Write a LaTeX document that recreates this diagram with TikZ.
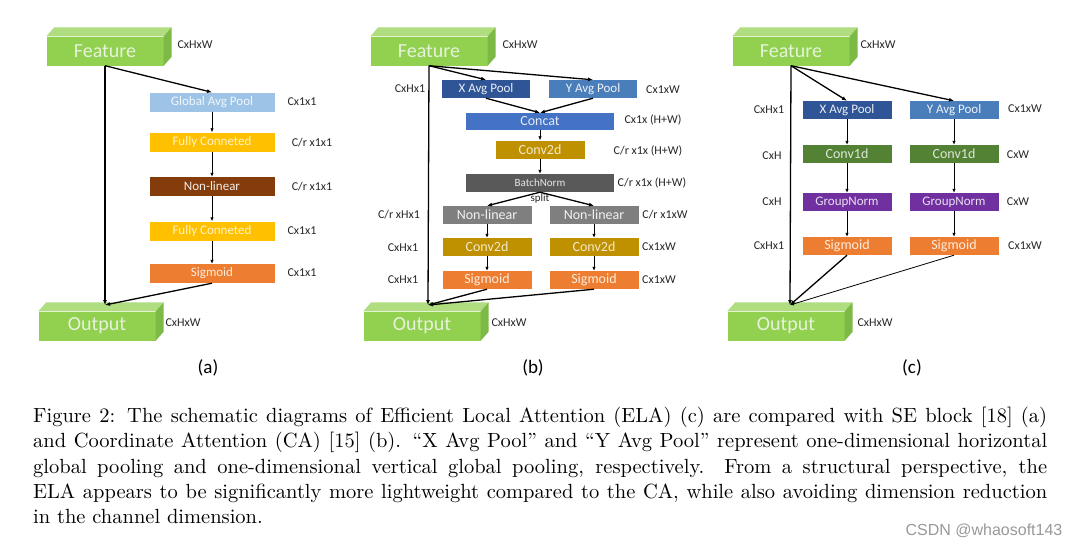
\documentclass[tikz,border=0pt]{standalone}
\usepackage{fontspec}
\usetikzlibrary{arrows.meta, positioning, calc}
\newfontfamily\boxfont{Carlito}
\newfontfamily\markfont{Liberation Sans}
\newfontfamily\capfont{lmroman10-regular}[Extension=.otf, Ligatures=TeX]
\definecolor{cubeFront}{HTML}{92D050}
\definecolor{cubeTop}{HTML}{B0DD80}
\definecolor{cubeSide}{HTML}{7DBA45}
\definecolor{cubeText}{HTML}{E6F3DA}
\definecolor{gapBlue}{HTML}{9DC3E6}
\definecolor{fcGold}{HTML}{FFC000}
\definecolor{nlBrown}{HTML}{843C0C}
\definecolor{sigOrange}{HTML}{ED7D31}
\definecolor{xapBlue}{HTML}{2F5597}
\definecolor{yapBlue}{HTML}{4A7EBB}
\definecolor{catBlue}{HTML}{4472C4}
\definecolor{convGold}{HTML}{BF9000}
\definecolor{bnGray}{HTML}{595959}
\definecolor{nlGray}{HTML}{7F7F7F}
\definecolor{c1dGreen}{HTML}{548235}
\definecolor{gnPurple}{HTML}{7030A0}
% front face of a green block, then its top and side faces
\newcommand{\cubenode}[3]{%
  \node[cube] (#1) at (#2) {#3};
  \fill[cubeTop] (#1.north west) -- ++(8,-9) -- ([shift={(8,-9)}]#1.north east) -- (#1.north east) -- cycle;
  \fill[cubeSide] (#1.north east) -- ++(8,-9) -- ([shift={(8,-9)}]#1.south east) -- (#1.south east) -- cycle;
}
\begin{document}
\begin{tikzpicture}[
  x=1pt, y=-1pt,
  cube/.style={fill=cubeFront, text=cubeText, minimum width=117pt, minimum height=29pt,
               inner sep=0pt, font=\boxfont\fontsize{20}{20}\selectfont},
  blk/.style={minimum width=89pt, minimum height=18pt, inner sep=0pt,
              font=\boxfont\fontsize{13}{13}\selectfont},
  wide/.style={blk, minimum width=125pt, minimum height=19pt},
  long/.style={blk, minimum width=148pt, minimum height=17pt},
  dim/.style={font=\boxfont\fontsize{12}{12}\selectfont, text=black!85},
  sub/.style={font=\boxfont\fontsize{19}{19}\selectfont},
  arr/.style={-{Latex[length=4pt, width=3.5pt]}, line width=0.8pt},
  big/.style={-{Latex[length=5pt, width=4pt]}, line width=1.3pt},
]
\useasboundingbox (0,0) rectangle (1080,547);
\fill[white] (0,0) rectangle (1080,547);

% (a) SE block
\cubenode{fa}{105,51}{Feature}
\cubenode{oa}{97,326}{Output}
\coordinate (ja) at (105,305);
\node[wide, fill=gapBlue, text=white!85!gapBlue] (gap) at (212,102) {Global Avg Pool};
\node[wide, fill=fcGold, text=white!80!fcGold] (fc1) at (212,142) {Fully Conneted};
\node[wide, fill=nlBrown, text=white!90!nlBrown] (nla) at (212,186.5) {Non-linear};
\node[wide, fill=fcGold, text=white!80!fcGold] (fc2) at (212,231) {Fully Conneted};
\node[wide, fill=sigOrange, text=white!85!sigOrange] (sga) at (212,273.5) {Sigmoid};
\node[dim] at (195,45) {CxHxW};
\node[dim] at (302,102) {Cx1x1};
\node[dim] at (312,143) {C/r x1x1};
\node[dim] at (312,187) {C/r x1x1};
\node[dim] at (302,231) {Cx1x1};
\node[dim] at (302,273) {Cx1x1};
\node[dim] at (183,323) {CxHxW};
\draw[big] (fa.south) -- (gap.north);
\draw[arr] (gap) -- (fc1);
\draw[arr] (fc1) -- (nla);
\draw[arr] (nla) -- (fc2);
\draw[arr] (fc2) -- (sga);
\draw[big] (fa.south) -- (ja);
\draw[big] (sga.south) -- (ja);
\node[sub] at (208,368) {(a)};

% (b) Coordinate Attention
\cubenode{fb}{429,51}{Feature}
\cubenode{ob}{422,326}{Output}
\coordinate (jb) at (428,305);
\node[blk, minimum width=88pt, fill=xapBlue, text=white!90!xapBlue] (xb) at (486,89) {X Avg Pool};
\node[blk, minimum width=88pt, fill=yapBlue, text=white!90!yapBlue] (yb) at (593,89) {Y Avg Pool};
\node[long, fill=catBlue, text=white!85!catBlue, font=\boxfont\fontsize{14}{14}\selectfont] (cat) at (540,121.5) {Concat};
\node[blk, fill=convGold, text=white!80!convGold, font=\boxfont\fontsize{14}{14}\selectfont] (cv) at (540,149.5) {Conv2d};
\node[long, minimum height=18pt, fill=bnGray, text=white!85!bnGray, font=\boxfont\fontsize{11}{11}\selectfont] (bn) at (540,183) {BatchNorm};
\node[font=\boxfont\fontsize{11}{11}\selectfont, text=black!85] at (540,199) {split};
\node[blk, fill=nlGray, text=white!90!nlGray, font=\boxfont\fontsize{14}{14}\selectfont] (nlx) at (487,215) {Non-linear};
\node[blk, fill=nlGray, text=white!90!nlGray, font=\boxfont\fontsize{14}{14}\selectfont] (nly) at (594,215) {Non-linear};
\node[blk, fill=convGold, text=white!80!convGold, font=\boxfont\fontsize{14}{14}\selectfont] (cvx) at (487,247) {Conv2d};
\node[blk, fill=convGold, text=white!80!convGold, font=\boxfont\fontsize{14}{14}\selectfont] (cvy) at (594,247) {Conv2d};
\node[blk, fill=sigOrange, text=white!85!sigOrange, font=\boxfont\fontsize{14}{14}\selectfont] (sgx) at (487,280) {Sigmoid};
\node[blk, fill=sigOrange, text=white!85!sigOrange, font=\boxfont\fontsize{14}{14}\selectfont] (sgy) at (594,280) {Sigmoid};
\node[dim] at (520,45) {CxHxW};
\node[dim] at (410,89) {CxHx1};
\node[dim] at (663,90) {Cx1xW};
\node[dim] at (653,120) {Cx1x (H+W)};
\node[dim] at (648,151) {C/r x1x (H+W)};
\node[dim] at (652,183) {C/r x1x (H+W)};
\node[dim] at (399,215) {C/r xHx1};
\node[dim] at (665,215) {C/r x1xW};
\node[dim] at (403,248) {CxHx1};
\node[dim] at (659,247) {Cx1xW};
\node[dim] at (403,280) {CxHx1};
\node[dim] at (659,280) {Cx1xW};
\node[dim] at (509,323) {CxHxW};
\draw[big] (fb.south) -- (xb.north);
\draw[big] (fb.south) -- (yb.north);
\draw[big] (xb.south) -- (cat.north);
\draw[big] (yb.south) -- (cat.north);
\draw[arr] (cat) -- (cv);
\draw[arr] (cv) -- (bn);
\draw[big] (bn.south) -- (nlx.north);
\draw[big] (bn.south) -- (nly.north);
\draw[arr] (nlx) -- (cvx);
\draw[arr] (nly) -- (cvy);
\draw[arr] (cvx) -- (sgx);
\draw[arr] (cvy) -- (sgy);
\draw[big] (fb.south) -- (jb);
\draw[big] (sgx.south) -- (jb);
\draw[big] (sgy.south) -- (jb);
\node[sub] at (533,368) {(b)};

% (c) Efficient Local Attention
\cubenode{fc}{791,51}{Feature}
\cubenode{oc}{786,326}{Output}
\coordinate (jc) at (790,305);
\node[blk, fill=xapBlue, text=white!90!xapBlue] (xc) at (847,110) {X Avg Pool};
\node[blk, fill=yapBlue, text=white!90!yapBlue] (yc) at (954,110) {Y Avg Pool};
\node[blk, fill=c1dGreen, text=white!80!c1dGreen, font=\boxfont\fontsize{14}{14}\selectfont] (c1x) at (847,154) {Conv1d};
\node[blk, fill=c1dGreen, text=white!80!c1dGreen, font=\boxfont\fontsize{14}{14}\selectfont] (c1y) at (954,154) {Conv1d};
\node[blk, fill=gnPurple, text=white!85!gnPurple] (gnx) at (847,202) {GroupNorm};
\node[blk, fill=gnPurple, text=white!85!gnPurple] (gny) at (954,202) {GroupNorm};
\node[blk, fill=sigOrange, text=white!85!sigOrange, font=\boxfont\fontsize{14}{14}\selectfont] (sx) at (847,246) {Sigmoid};
\node[blk, fill=sigOrange, text=white!85!sigOrange, font=\boxfont\fontsize{14}{14}\selectfont] (sy) at (954,246) {Sigmoid};
\node[dim] at (878,45) {CxHxW};
\node[dim] at (769,110) {CxHx1};
\node[dim] at (1025,109) {Cx1xW};
\node[dim] at (772,156) {CxH};
\node[dim] at (1018,155) {CxW};
\node[dim] at (772,202) {CxH};
\node[dim] at (1018,202) {CxW};
\node[dim] at (769,246) {CxHx1};
\node[dim] at (1025,246) {Cx1xW};
\node[dim] at (875,323) {CxHxW};
\draw[big] (fc.south) -- (xc.north);
\draw[big] (fc.south) -- (yc.north);
\draw[arr] (xc) -- (c1x);
\draw[arr] (yc) -- (c1y);
\draw[arr] (c1x) -- (gnx);
\draw[arr] (c1y) -- (gny);
\draw[arr] (gnx) -- (sx);
\draw[arr] (gny) -- (sy);
\draw[big] (fc.south) -- (jc);
\draw[big] (sx.south) -- (jc);
\draw[arr] (sy.south) -- (jc);
\node[sub] at (912,368) {(c)};

% caption and watermark
\node[anchor=north west, inner sep=0pt, text width=1014pt, align=justify,
      font=\capfont\fontsize{20.5}{25.3}\selectfont] (cap) at (33,407)
  {Figure 2: The schematic diagrams of Efficient Local Attention (ELA) (c) are compared with SE block [18] (a)\linebreak
   and Coordinate Attention (CA) [15] (b). ``X Avg Pool'' and ``Y Avg Pool'' represent one-dimensional horizontal\linebreak
   global pooling and one-dimensional vertical global pooling, respectively. From a structural perspective, the\linebreak
   ELA appears to be significantly more lightweight compared to the CA, while also avoiding dimension reduction\linebreak
   in the channel dimension.};
\node[font=\markfont\fontsize{16}{16}\selectfont, text=black!40] (mark) at (984,531) {CSDN @whaosoft143};
\end{tikzpicture}
\end{document}
